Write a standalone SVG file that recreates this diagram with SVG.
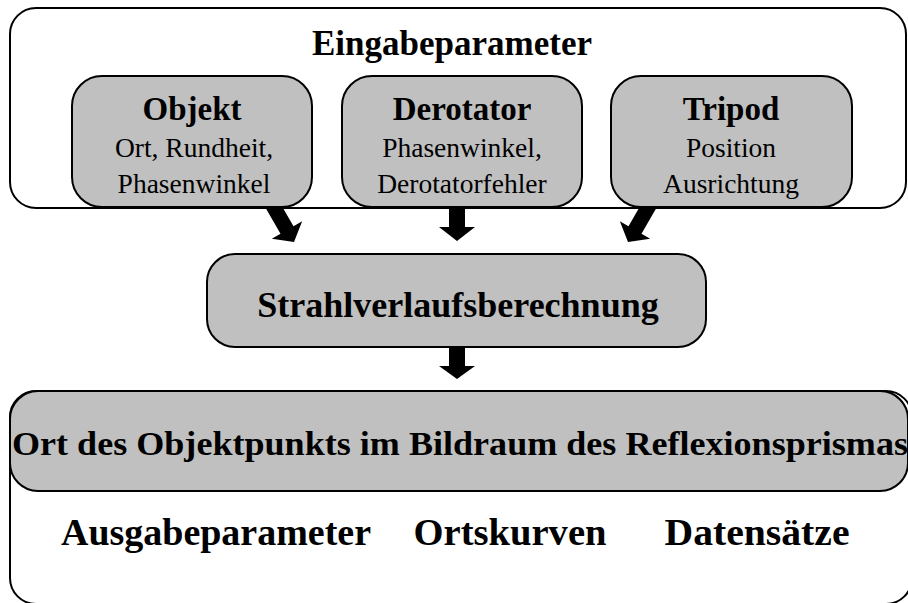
<svg xmlns="http://www.w3.org/2000/svg" width="908" height="603" viewBox="0 0 908 603">
<style>
.frame{fill:#fff;stroke:#000;stroke-width:2}
.box{fill:#c0c0c0;stroke:#000;stroke-width:2}
.arrow{fill:#000;stroke:none}
text{font-family:"Liberation Serif","Times New Roman",serif;fill:#000;text-anchor:middle}
.h{font-weight:bold}
.s{font-size:27.5px}
</style>
<rect width="908" height="603" fill="#fff"/>
<g id="eingabeparameter">
<rect class="frame" x="10" y="8" width="896" height="200" rx="26"/>
<text class="h" x="452" y="55" font-size="35">Eingabeparameter</text>
</g>
<g id="connectors">
<polygon class="arrow" transform="translate(272,204) rotate(-30)" points="-7.5,0 7.5,0 7.5,30 17.5,30 0,44 -17.5,30 -7.5,30"/>
<polygon class="arrow" points="449,206 465,206 465,227 475,227 457,241 439,227 449,227"/>
<polygon class="arrow" transform="translate(650,204) rotate(30)" points="-7.5,0 7.5,0 7.5,30 17.5,30 0,44 -17.5,30 -7.5,30"/>
<polygon class="arrow" points="449,346 465,346 465,366 475,366 457,379 439,366 449,366"/>
</g>
<g id="objekt">
<rect class="box" x="72" y="76" width="240" height="131" rx="30"/>
<text class="h" x="192" y="120" font-size="33">Objekt</text>
<text class="s" x="194" y="157">Ort, Rundheit,</text>
<text class="s" x="194" y="193">Phasenwinkel</text>
</g>
<g id="derotator">
<rect class="box" x="342" y="76" width="240" height="131" rx="30"/>
<text class="h" x="462" y="120" font-size="33">Derotator</text>
<text class="s" x="462" y="157">Phasenwinkel,</text>
<text class="s" x="462" y="193">Derotatorfehler</text>
</g>
<g id="tripod">
<rect class="box" x="611" y="76" width="241" height="131" rx="30"/>
<text class="h" x="731" y="120" font-size="33">Tripod</text>
<text class="s" x="731" y="157">Position</text>
<text class="s" x="731" y="193">Ausrichtung</text>
</g>
<g id="strahlverlaufsberechnung">
<rect class="box" x="207" y="254" width="499" height="93" rx="28"/>
<text class="h" x="458" y="317" font-size="36">Strahlverlaufsberechnung</text>
</g>
<g id="ausgabe">
<rect class="frame" x="10" y="391" width="902" height="213" rx="26"/>
<rect class="box" x="10" y="391" width="898" height="100" rx="28"/>
<text class="h" x="460" y="455" font-size="33" textLength="896" lengthAdjust="spacingAndGlyphs">Ort des Objektpunkts im Bildraum des Reflexionsprismas</text>
<text class="h" x="216" y="545" font-size="37" textLength="310" lengthAdjust="spacingAndGlyphs">Ausgabeparameter</text>
<text class="h" x="510" y="545" font-size="37" textLength="193" lengthAdjust="spacingAndGlyphs">Ortskurven</text>
<text class="h" x="757" y="545" font-size="37" textLength="185" lengthAdjust="spacingAndGlyphs">Datensätze</text>
</g>
</svg>
